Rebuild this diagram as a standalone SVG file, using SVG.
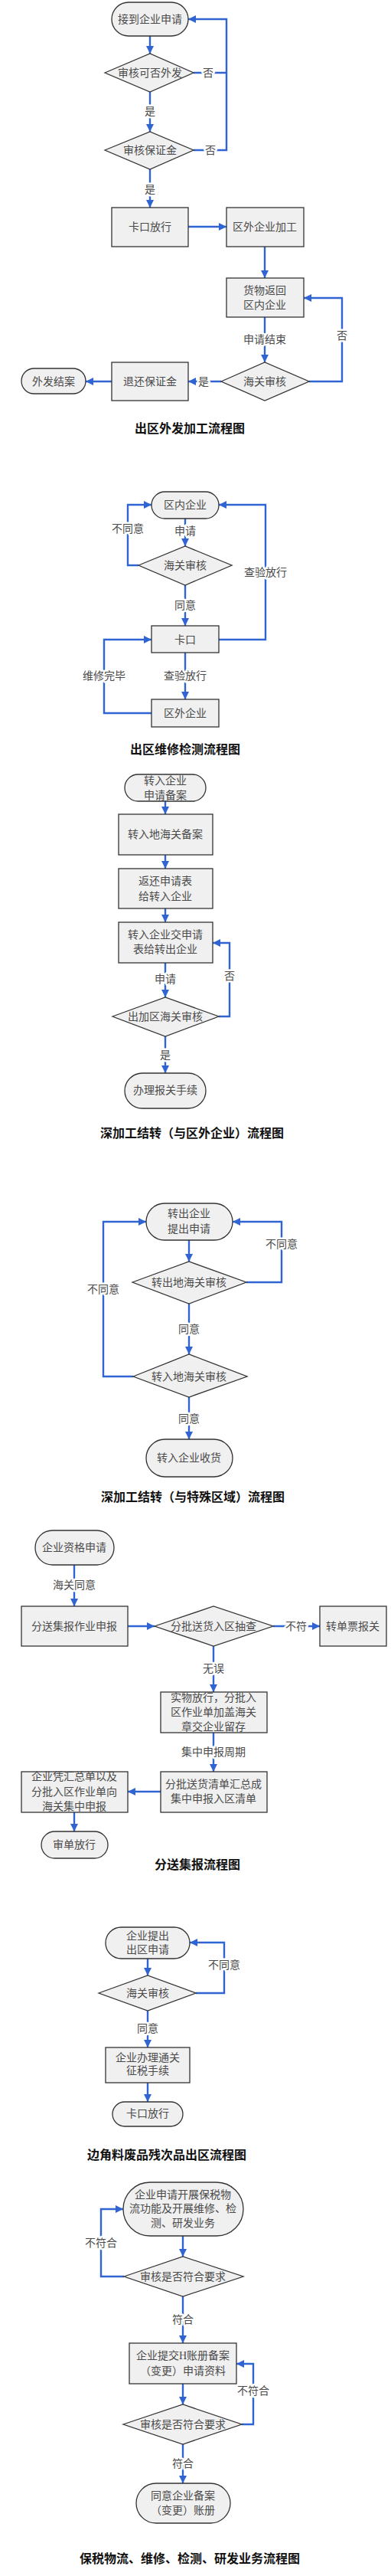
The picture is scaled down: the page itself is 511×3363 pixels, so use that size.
<svg xmlns="http://www.w3.org/2000/svg" width="511" height="3363" viewBox="0 0 511 3363">
<style>
.bg{fill:#fff}
.n rect,.n polygon{fill:#f0f0f0;stroke:#333;stroke-width:1.3}
.n text{font-family:"Liberation Serif","Noto Sans CJK SC",serif;font-size:14px;fill:#4a4a4a;text-anchor:middle;dominant-baseline:central}
.c path{fill:none;stroke:#2f64d2;stroke-width:2.4}
.c .a{marker-end:url(#ah)}
.c text{font-family:"Liberation Serif","Noto Sans CJK SC",serif;font-size:14px;fill:#4a4a4a;text-anchor:middle;dominant-baseline:central;stroke:#fff;stroke-width:5;paint-order:stroke;stroke-linejoin:round}
.t{font-family:"Noto Sans CJK SC",sans-serif;font-size:16px;font-weight:bold;fill:#111;text-anchor:middle;dominant-baseline:central}
</style>
<defs>
<marker id="ah" viewBox="0 0 10 10" refX="10" refY="5" markerWidth="11" markerHeight="10" markerUnits="userSpaceOnUse" orient="auto">
<path d="M0,0 L10,5 L0,10 z" fill="#2f64d2"/>
</marker>
</defs>
<rect class="bg" x="0" y="0" width="511" height="3363"/>

<!-- ===== Connectors ===== -->
<g id="connectors" class="c">
<!-- section 1 -->
<path class="a" d="M196,47 V70"/>
<path class="a" d="M196,120 V172"/>
<path class="a" d="M196,221 V271"/>
<path d="M253,95 H296"/>
<path class="a" d="M253,196 H296 V25 H246"/>
<path class="a" d="M246,296 H296"/>
<path class="a" d="M346,322 V363"/>
<path class="a" d="M346,414 V473"/>
<path class="a" d="M404,498 H447 V389 H397"/>
<path class="a" d="M289,498 H246"/>
<path class="a" d="M146,498 H112"/>
<text x="196" y="145">是</text>
<text x="196" y="247">是</text>
<text x="272" y="95">否</text>
<text x="275" y="196">否</text>
<text x="346" y="443">申请结束</text>
<text x="447" y="438">否</text>
<text x="266" y="498">是</text>
<!-- section 2 -->
<path class="a" d="M242,677 V713"/>
<path class="a" d="M181,738 H167 V659 H198"/>
<path class="a" d="M242,764 V817"/>
<path class="a" d="M286,835 H347 V659 H286"/>
<path class="a" d="M242,852 V913"/>
<path class="a" d="M198,931 H136 V835 H198"/>
<text x="242" y="693">申请</text>
<text x="167" y="690">不同意</text>
<text x="242" y="790">同意</text>
<text x="347" y="747">查验放行</text>
<text x="242" y="882">查验放行</text>
<text x="136" y="882">维修完毕</text>
<!-- section 3 -->
<path class="a" d="M216,1046 V1063"/>
<path class="a" d="M216,1116 V1134"/>
<path class="a" d="M216,1186 V1204"/>
<path class="a" d="M216,1257 V1302"/>
<path class="a" d="M286,1327 H300 V1231 H278"/>
<path class="a" d="M216,1353 V1401"/>
<text x="216" y="1278">申请</text>
<text x="300" y="1274">否</text>
<text x="216" y="1377">是</text>
<!-- section 4 -->
<path class="a" d="M247,1619 V1647"/>
<path class="a" d="M322,1674 H368 V1595 H304"/>
<path class="a" d="M247,1702 V1768"/>
<path class="a" d="M174,1797 H135 V1595 H191"/>
<path class="a" d="M247,1824 V1879"/>
<text x="368" y="1624">不同意</text>
<text x="247" y="1735">同意</text>
<text x="135" y="1683">不同意</text>
<text x="247" y="1852">同意</text>
<!-- section 5 -->
<path class="a" d="M97,2043 V2097"/>
<path class="a" d="M167,2123 H202"/>
<path class="a" d="M357,2123 H418"/>
<path class="a" d="M279,2149 V2209"/>
<path class="a" d="M279,2262 V2313"/>
<path class="a" d="M210,2339 H167"/>
<path class="a" d="M97,2366 V2391"/>
<text x="97" y="2069">海关同意</text>
<text x="387" y="2123">不符</text>
<text x="279" y="2178">无误</text>
<text x="279" y="2287">集中申报周期</text>
<!-- section 6 -->
<path class="a" d="M193,2557 V2579"/>
<path class="a" d="M256,2602 H293 V2536 H248"/>
<path class="a" d="M193,2625 V2673"/>
<path class="a" d="M193,2719 V2744"/>
<text x="293" y="2565">不同意</text>
<text x="193" y="2648">同意</text>
<!-- section 7 -->
<path class="a" d="M239,2919 V2946"/>
<path class="a" d="M162,2972 H132 V2884 H161"/>
<path class="a" d="M239,2998 V3059"/>
<path class="a" d="M239,3112 V3139"/>
<path class="a" d="M316,3165 H331 V3086 H309"/>
<path class="a" d="M239,3191 V3242"/>
<text x="132" y="2928">不符合</text>
<text x="239" y="3028">符合</text>
<text x="331" y="3121">不符合</text>
<text x="239" y="3216">符合</text>
</g>

<!-- ===== Section 1: 出区外发加工 ===== -->
<g id="s1-start" class="n"><rect x="146" y="3" width="100" height="44" rx="22"/><text x="196" y="25">接到企业申请</text></g>
<g id="s1-check1" class="n"><polygon points="137,95 196,70 253,95 196,120"/><text x="196" y="95">审核可否外发</text></g>
<g id="s1-check2" class="n"><polygon points="137,196 196,172 253,196 196,221"/><text x="196" y="196">审核保证金</text></g>
<g id="s1-gate" class="n"><rect x="146" y="271" width="100" height="51"/><text x="196" y="296">卡口放行</text></g>
<g id="s1-process" class="n"><rect x="296" y="271" width="101" height="51"/><text x="346" y="296">区外企业加工</text></g>
<g id="s1-return" class="n"><rect x="296" y="363" width="101" height="51"/><text x="346" y="379">货物返回</text><text x="346" y="398">区内企业</text></g>
<g id="s1-customs" class="n"><polygon points="289,498 346,473 404,498 346,523"/><text x="346" y="498">海关审核</text></g>
<g id="s1-refund" class="n"><rect x="146" y="473" width="100" height="50"/><text x="196" y="498">退还保证金</text></g>
<g id="s1-end" class="n"><rect x="28" y="481" width="84" height="33" rx="16.5"/><text x="70" y="498">外发结案</text></g>
<text id="title1" class="t" x="248" y="558">出区外发加工流程图</text>

<!-- ===== Section 2: 出区维修检测 ===== -->
<g id="s2-start" class="n"><rect x="198" y="642" width="88" height="35" rx="17.5"/><text x="242" y="659">区内企业</text></g>
<g id="s2-customs" class="n"><polygon points="181,738 242,713 303,738 242,764"/><text x="242" y="738">海关审核</text></g>
<g id="s2-gate" class="n"><rect x="198" y="817" width="88" height="35"/><text x="242" y="835">卡口</text></g>
<g id="s2-outside" class="n"><rect x="198" y="913" width="88" height="36"/><text x="242" y="931">区外企业</text></g>
<text id="title2" class="t" x="242" y="977">出区维修检测流程图</text>

<!-- ===== Section 3: 深加工结转（与区外企业） ===== -->
<g id="s3-start" class="n"><rect x="163" y="1011" width="106" height="35" rx="17.5"/><text x="216" y="1019">转入企业</text><text x="216" y="1038">申请备案</text></g>
<g id="s3-record" class="n"><rect x="155" y="1063" width="123" height="53"/><text x="216" y="1089">转入地海关备案</text></g>
<g id="s3-return" class="n"><rect x="155" y="1134" width="123" height="52"/><text x="216" y="1150">返还申请表</text><text x="216" y="1170">给转入企业</text></g>
<g id="s3-submit" class="n"><rect x="155" y="1204" width="123" height="53"/><text x="216" y="1220">转入企业交申请</text><text x="216" y="1239">表给转出企业</text></g>
<g id="s3-customs" class="n"><polygon points="147,1327 216,1302 286,1327 216,1353"/><text x="216" y="1327">出加区海关审核</text></g>
<g id="s3-end" class="n"><rect x="163" y="1401" width="106" height="46" rx="23"/><text x="216" y="1423">办理报关手续</text></g>
<text id="title3" class="t" x="251" y="1478">深加工结转（与区外企业）流程图</text>

<!-- ===== Section 4: 深加工结转（与特殊区域） ===== -->
<g id="s4-start" class="n"><rect x="191" y="1571" width="113" height="48" rx="24"/><text x="247" y="1584">转出企业</text><text x="247" y="1604">提出申请</text></g>
<g id="s4-out" class="n"><polygon points="173,1674 247,1647 322,1674 247,1702"/><text x="247" y="1674">转出地海关审核</text></g>
<g id="s4-in" class="n"><polygon points="174,1797 247,1768 323,1797 247,1824"/><text x="247" y="1797">转入地海关审核</text></g>
<g id="s4-end" class="n"><rect x="191" y="1879" width="113" height="49" rx="24.5"/><text x="247" y="1903">转入企业收货</text></g>
<text id="title4" class="t" x="252" y="1953">深加工结转（与特殊区域）流程图</text>

<!-- ===== Section 5: 分送集报 ===== -->
<g id="s5-start" class="n"><rect x="46" y="1998" width="103" height="45" rx="22.5"/><text x="97" y="2020">企业资格申请</text></g>
<g id="s5-declare" class="n"><rect x="28" y="2097" width="139" height="52"/><text x="97" y="2123">分送集报作业申报</text></g>
<g id="s5-check" class="n"><polygon points="202,2123 279,2097 357,2123 279,2149"/><text x="279" y="2123">分批送货入区抽查</text></g>
<g id="s5-single" class="n"><rect x="418" y="2097" width="87" height="52"/><text x="461" y="2123">转单票报关</text></g>
<g id="s5-release" class="n"><rect x="210" y="2209" width="139" height="53"/><text x="279" y="2216">实物放行，分批入</text><text x="279" y="2235">区作业单加盖海关</text><text x="279" y="2254">章交企业留存</text></g>
<g id="s5-summary" class="n"><rect x="210" y="2313" width="139" height="53"/><text x="279" y="2329">分批送货清单汇总成</text><text x="279" y="2348">集中申报入区清单</text></g>
<g id="s5-central" class="n"><rect x="28" y="2313" width="139" height="53"/><text x="97" y="2319">企业凭汇总单以及</text><text x="97" y="2339">分批入区作业单向</text><text x="97" y="2358">海关集中申报</text></g>
<g id="s5-end" class="n"><rect x="54" y="2391" width="87" height="35" rx="17.5"/><text x="97" y="2408">审单放行</text></g>
<text id="title5" class="t" x="258" y="2433">分送集报流程图</text>

<!-- ===== Section 6: 边角料废品残次品出区 ===== -->
<g id="s6-start" class="n"><rect x="138" y="2516" width="110" height="41" rx="20.5"/><text x="193" y="2527">企业提出</text><text x="193" y="2545">出区申请</text></g>
<g id="s6-customs" class="n"><polygon points="129,2602 193,2579 256,2602 193,2625"/><text x="193" y="2602">海关审核</text></g>
<g id="s6-tax" class="n"><rect x="138" y="2673" width="110" height="46"/><text x="193" y="2686">企业办理通关</text><text x="193" y="2703">征税手续</text></g>
<g id="s6-end" class="n"><rect x="147" y="2744" width="92" height="32" rx="16"/><text x="193" y="2759">卡口放行</text></g>
<text id="title6" class="t" x="218" y="2812">边角料废品残次品出区流程图</text>

<!-- ===== Section 7: 保税物流、维修、检测、研发业务 ===== -->
<g id="s7-start" class="n"><rect x="161" y="2849" width="157" height="70" rx="35"/><text x="239" y="2865">企业申请开展保税物</text><text x="239" y="2883">流功能及开展维修、检</text><text x="239" y="2902">测、研发业务</text></g>
<g id="s7-check1" class="n"><polygon points="162,2972 239,2946 318,2972 239,2998"/><text x="239" y="2972">审核是否符合要求</text></g>
<g id="s7-submit" class="n"><rect x="169" y="3059" width="140" height="53"/><text x="239" y="3075">企业提交H账册备案</text><text x="239" y="3095">（变更）申请资料</text></g>
<g id="s7-check2" class="n"><polygon points="161,3165 239,3139 316,3165 239,3191"/><text x="239" y="3165">审核是否符合要求</text></g>
<g id="s7-end" class="n"><rect x="178" y="3242" width="123" height="52" rx="26"/><text x="239" y="3258">同意企业备案</text><text x="239" y="3277">（变更）账册</text></g>
<text id="title7" class="t" x="248" y="3339">保税物流、维修、检测、研发业务流程图</text>
</svg>
